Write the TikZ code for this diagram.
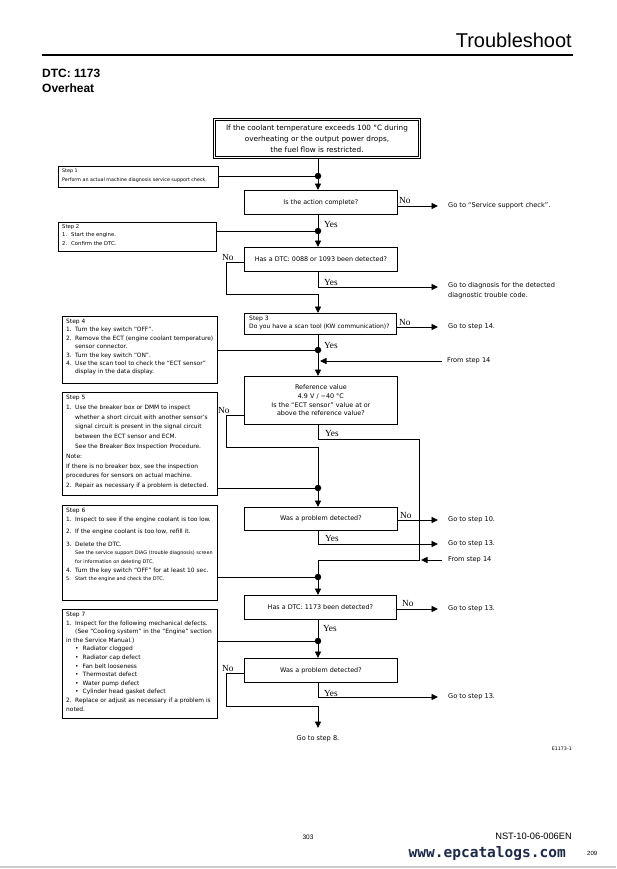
\documentclass[tikz,border=0pt]{standalone}
\usepackage{fontspec}
\setmainfont{DejaVu Sans}
\newfontfamily\hdrfont{Liberation Sans}
\newfontfamily\ynfont{Liberation Serif}
\newfontfamily\urlfont{DejaVu Sans Mono}
\usetikzlibrary{arrows.meta}
\definecolor{urlblue}{HTML}{1C2A48}
\newcommand{\itm}[1]{\makebox[9pt][l]{#1}}
\newcommand{\ind}{\hspace*{9pt}}
\begin{document}
\begin{tikzpicture}[x=1pt,y=-1pt,
  ln/.style={line width=0.9pt},
  arr/.style={line width=0.9pt, -{Triangle[length=6.5pt,width=6pt]}},
  dot/.style={circle, fill, inner sep=0pt, minimum size=6.5pt},
  box/.style={draw, line width=0.8pt, inner sep=0pt, anchor=north west},
  qtext/.style={font=\fontsize{6.4}{8.7}\selectfont, align=center},
  stxt/.style={anchor=north west, inner sep=0pt, align=left, font=\fontsize{5.9}{8.4}\selectfont},
  goto/.style={anchor=west, inner sep=0pt, font=\fontsize{6.6}{10}\selectfont},
  yn/.style={anchor=base west, inner sep=0pt, font=\ynfont\fontsize{9.3}{9}\selectfont},
  gshort/.style={shorten >=10pt}]
\useasboundingbox (0,0) rectangle (616,869);
\fill[white] (0,0) rectangle (616,869);

% ---------- header ----------
\node[anchor=base east, inner sep=0pt, font=\hdrfont\fontsize{20}{20}\selectfont] (title) at (572,48) {Troubleshoot};
\coordinate (hl) at (42,55);
\coordinate (hr) at (573,55);
\draw[line width=1.1pt] (hl) -- (hr);
\node[anchor=base west, inner sep=0pt, font=\hdrfont\bfseries\fontsize{12}{12}\selectfont] (dtc) at (42,78) {DTC: 1173};
\node[anchor=base west, inner sep=0pt, font=\hdrfont\bfseries\fontsize{12}{12}\selectfont] (oh) at (42,93) {Overheat};

% ---------- top box ----------
\node[draw, double, double distance=1.3pt, line width=0.8pt, minimum width=205pt, minimum height=38pt,
      inner sep=0pt, align=center, font=\fontsize{7.3}{11}\selectfont, anchor=north] (top) at (317,119)
  {If the coolant temperature exceeds 100 °C during\\overheating or the output power drops,\\the fuel flow is restricted.};

% ---------- boxes ----------
\node[box, minimum width=160pt, minimum height=21pt] (step1) at (58,166) {};
\node[stxt, font=\fontsize{4.8}{9}\selectfont] (s1t) at ([shift={(4pt,-3pt)}]step1.north west)
  {Step 1\\Perform an actual machine diagnosis service support check.};

\node[box, qtext, minimum width=153pt, minimum height=24pt] (dec1) at (244,190) {Is the action complete?};

\node[box, minimum width=158pt, minimum height=29pt] (step2) at (58,222) {};
\node[stxt, font=\fontsize{5.3}{8.3}\selectfont] (s2t) at ([shift={(4pt,-2.5pt)}]step2.north west)
  {Step 2\\\itm{1.}Start the engine.\\\itm{2.}Confirm the DTC.};

\node[box, qtext, minimum width=153pt, minimum height=24pt] (dec2) at (244,247) {Has a DTC: 0088 or 1093 been detected?};

\node[box, minimum width=152pt, minimum height=21pt] (step3) at (244,313) {};
\node[stxt, font=\fontsize{6}{8}\selectfont] (s3t) at ([shift={(5pt,-3pt)}]step3.north west)
  {Step 3\\Do you have a scan tool (KW communication)?};

\node[box, minimum width=155pt, minimum height=67pt] (step4) at (62,316) {};
\node[stxt] (s4t) at ([shift={(4pt,-3pt)}]step4.north west)
  {Step 4\\
   \itm{1.}Turn the key switch “OFF”.\\
   \itm{2.}Remove the ECT (engine coolant temperature)\\
   \ind sensor connector.\\
   \itm{3.}Turn the key switch “ON”.\\
   \itm{4.}Use the scan tool to check the “ECT sensor”\\
   \ind display in the data display.};

\node[box, qtext, minimum width=153pt, minimum height=48pt] (ref) at (244,376)
  {Reference value\\4.9 V / −40 °C\\Is the “ECT sensor” value at or\\above the reference value?};

\node[box, minimum width=155pt, minimum height=103pt] (step5) at (62,392) {};
\node[stxt, font=\fontsize{5.9}{9.8}\selectfont] (s5t) at ([shift={(4pt,-3pt)}]step5.north west)
  {Step 5\\
   \itm{1.}Use the breaker box or DMM to inspect\\
   \ind whether a short circuit with another sensor’s\\
   \ind signal circuit is present in the signal circuit\\
   \ind between the ECT sensor and ECM.\\
   \ind See the Breaker Box Inspection Procedure.\\
   Note:\\
   If there is no breaker box, see the inspection\\
   procedures for sensors on actual machine.\\
   \itm{2.}Repair as necessary if a problem is detected.};

\node[box, qtext, minimum width=153pt, minimum height=23pt] (dec3) at (244,507) {Was a problem detected?};

\node[box, minimum width=155pt, minimum height=95pt] (step6) at (62,505) {};
\node[stxt, font=\fontsize{5.9}{8.6}\selectfont] (s6t) at ([shift={(4pt,-3pt)}]step6.north west)
  {Step 6\\
   \itm{1.}Inspect to see if the engine coolant is too low.\\[4pt]
   \itm{2.}If the engine coolant is too low, refill it.\\[4pt]
   \itm{3.}Delete the DTC.\\
   {\fontsize{4.9}{8.6}\selectfont\ind See the service support DIAG (trouble diagnosis) screen}\\
   {\fontsize{4.9}{8.6}\selectfont\ind for information on deleting DTC.}\\
   \itm{4.}Turn the key switch “OFF” for at least 10 sec.\\
   {\fontsize{4.9}{8.6}\selectfont\itm{5.}Start the engine and check the DTC.}};

\node[box, qtext, minimum width=152pt, minimum height=24pt] (dec4) at (244,595) {Has a DTC: 1173 been detected?};

\node[box, minimum width=155pt, minimum height=109pt] (step7) at (62,609) {};
\node[stxt, font=\fontsize{5.9}{8.6}\selectfont] (s7t) at ([shift={(4pt,-3pt)}]step7.north west)
  {Step 7\\
   \itm{1.}Inspect for the following mechanical defects.\\
   \ind (See “Cooling system” in the “Engine” section\\
   in the Service Manual.)\\
   \hspace*{9pt}•\hspace{4pt}Radiator clogged\\
   \hspace*{9pt}•\hspace{4pt}Radiator cap defect\\
   \hspace*{9pt}•\hspace{4pt}Fan belt looseness\\
   \hspace*{9pt}•\hspace{4pt}Thermostat defect\\
   \hspace*{9pt}•\hspace{4pt}Water pump defect\\
   \hspace*{9pt}•\hspace{4pt}Cylinder head gasket defect\\
   \itm{2.}Replace or adjust as necessary if a problem is\\
   noted.};

\node[box, qtext, minimum width=153pt, minimum height=24pt] (dec5) at (244,658) {Was a problem detected?};

% ---------- right-side texts ----------
\node[goto] (g1) at (448,206) {Go to “Service support check”.};
\node[goto, anchor=north west, align=left, font=\fontsize{6.6}{10}\selectfont] (g2) at (448,282.5)
  {Go to diagnosis for the detected\\diagnostic trouble code.};
\node[goto] (g3) at (448,327) {Go to step 14.};
\node[goto] (f1) at (447,361) {From step 14};
\node[goto] (g4) at (448,520) {Go to step 10.};
\node[goto] (g5) at (448,544) {Go to step 13.};
\node[goto] (f2) at (448,560) {From step 14};
\node[goto] (g6) at (448,609) {Go to step 13.};
\node[goto] (g7) at (448,697) {Go to step 13.};
\node[goto, anchor=north] (g8) at (318,735) {Go to step 8.};
\node[anchor=base east, inner sep=0pt, font=\fontsize{4.8}{5}\selectfont] (code) at (572,750) {E1173-1};

% ---------- dots and corners ----------
\node[dot] (d1) at (318,176) {};
\node[dot] (d2) at (318,231) {};
\node[dot] (d3) at (318,350) {};
\node[dot] (d4) at (318,488) {};
\node[dot] (d5) at (318,577) {};
\node[dot] (d6) at (318,641) {};
\coordinate (c2a) at (226,262);
\coordinate (c2b) at (226,294);
\coordinate (c2c) at (318,294);
\coordinate (y2) at (318,287);
\coordinate (j1) at (320,361);
\coordinate (c4a) at (318,439);
\coordinate (c4b) at (419,439);
\coordinate (c4c) at (419,560);
\coordinate (c4d) at (318,560);
\coordinate (j2) at (421,560);
\coordinate (c5a) at (226,415);
\coordinate (c5b) at (226,447);
\coordinate (c5c) at (318,447);
\coordinate (c6) at (318,544);
\coordinate (c7a) at (226,673);
\coordinate (c7b) at (226,706);
\coordinate (c7c) at (318,706);
\coordinate (c8) at (318,697);

% ---------- connectors ----------
\draw[ln] (top.south -| d1) -- (d1);
\draw[ln] (step1.east |- d1) -- (d1);
\draw[arr] (d1) -- (d1 |- dec1.north);
\draw[arr, gshort] (dec1.east |- g1.west) -- (g1.west);
\draw[ln] (dec1.south -| d2) -- (d2);
\draw[ln] (step2.east |- d2) -- (d2);
\draw[arr] (d2) -- (d2 |- dec2.north);
% dec2
\draw[arr, gshort] (dec2.south -| y2) -- (y2) -- (g2.west |- y2);
\draw[ln] (dec2.west |- c2a) -- (c2a) -- (c2b) -- (c2c);
\draw[arr] (c2c) -- (c2c |- step3.north);
% step3
\draw[arr, gshort] (step3.east |- g3.west) -- (g3.west);
\draw[ln] (step3.south -| d3) -- (d3);
\draw[ln] (step4.east |- d3) -- (d3);
\draw[arr, shorten <=5pt] (f1.west) -- (j1);
\draw[arr] (d3) -- (d3 |- ref.north);
% ref
\draw[ln] (ref.south -| c4a) -- (c4a) -- (c4b) -- (c4c) -- (c4d) -- (d5);
\draw[ln] (ref.west |- c5a) -- (c5a) -- (c5b) -- (c5c) -- (d4);
\draw[ln] (step5.east |- d4) -- (d4);
\draw[arr] (d4) -- (d4 |- dec3.north);
% dec3
\draw[arr, gshort] (dec3.east |- g4.west) -- (g4.west);
\draw[arr, gshort] (dec3.south -| c6) -- (c6) -- (g5.west |- c6);
\draw[arr, shorten <=6pt] (f2.west) -- (j2);
% dec4
\draw[ln] (step6.east |- d5) -- (d5);
\draw[arr] (d5) -- (d5 |- dec4.north);
\draw[arr, gshort] (dec4.east |- g6.west) -- (g6.west);
\draw[ln] (dec4.south -| d6) -- (d6);
\draw[ln] (step7.east |- d6) -- (d6);
\draw[arr] (d6) -- (d6 |- dec5.north);
% dec5
\draw[arr, gshort] (dec5.south -| c8) -- (c8) -- (g7.west |- c8);
\draw[arr, shorten >=7pt] (dec5.west |- c7a) -- (c7a) -- (c7b) -- (c7c) -- (g8.north);

% ---------- Yes / No labels ----------
\node[yn] (n1) at (399,204) {No};
\node[yn] (ys1) at (324,227) {Yes};
\node[yn] (n2) at (222,260) {No};
\node[yn] (ys2) at (324,285) {Yes};
\node[yn] (n3) at (399,325) {No};
\node[yn] (ys3) at (324,348) {Yes};
\node[yn] (n4) at (218,413) {No};
\node[yn] (ys4) at (325,436) {Yes};
\node[yn] (n5) at (400,518) {No};
\node[yn] (ys5) at (325,541) {Yes};
\node[yn] (n6) at (402,606) {No};
\node[yn] (ys6) at (323,631) {Yes};
\node[yn] (n7) at (222,671) {No};
\node[yn] (ys7) at (324,696) {Yes};

% ---------- footer ----------
\node[anchor=base, inner sep=0pt, font=\hdrfont\fontsize{6.5}{7}\selectfont] (pg) at (308,839) {303};
\node[anchor=base east, inner sep=0pt, font=\hdrfont\fontsize{9.3}{10}\selectfont] (doc) at (572,839) {NST-10-06-006EN};
\node[anchor=base east, inner sep=0pt, text=urlblue, font=\urlfont\bfseries\fontsize{14.5}{15}\selectfont] (url) at (566,857) {www.epcatalogs.com};
\node[anchor=base west, inner sep=0pt, font=\hdrfont\fontsize{6}{7}\selectfont] (pg2) at (587,855) {209};
\coordinate (bl) at (0,867);
\coordinate (br) at (616,867);
\draw[line width=2pt, black!20] (bl) -- (br);
\end{tikzpicture}
\end{document}
